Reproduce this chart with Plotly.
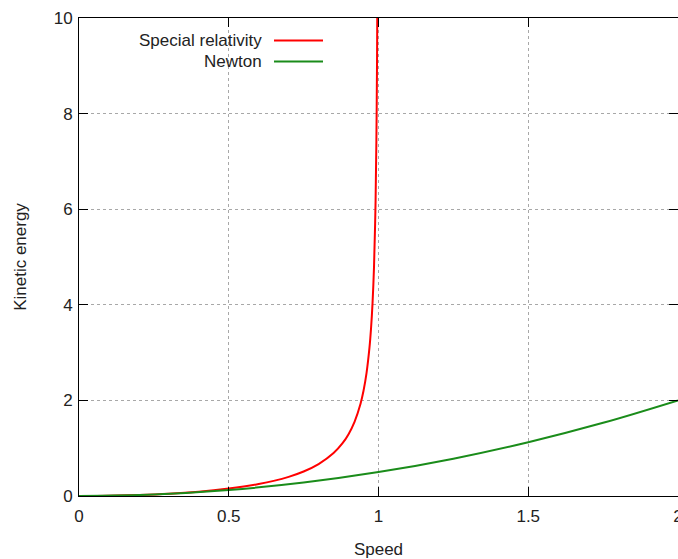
import plotly.graph_objects as go

# Values
sr_speed = [0.0, 0.1, 0.2, 0.3, 0.4, 0.5, 0.55, 0.6, 0.65, 0.7, 0.75, 0.8, 0.85, 0.88,
            0.9, 0.92, 0.94, 0.95, 0.96, 0.97, 0.975, 0.98, 0.985, 0.99, 0.993, 0.995, 0.996, 0.997]
sr_energy = [0.0, 0.005, 0.021, 0.048, 0.091, 0.155, 0.197, 0.25, 0.316, 0.40, 0.512, 0.667, 0.898, 1.105,
             1.294, 1.552, 1.931, 2.203, 2.571, 3.113, 3.50, 4.025, 4.79, 6.089, 7.46, 9.01, 10.19, 11.9]
nw_speed = [0.0, 0.25, 0.5, 0.75, 1.0, 1.25, 1.5, 1.75, 2.0]
nw_energy = [0.0, 0.031, 0.125, 0.281, 0.5, 0.781, 1.125, 1.531, 2.0]
x_ticks = [0, 0.5, 1, 1.5, 2]
y_ticks = [0, 2, 4, 6, 8, 10]
series_names = ["Special relativity", "Newton"]
series_colors = ["#ff0000", "#1a8c1a"]

fig = go.Figure()
fig.add_trace(go.Scatter(x=sr_speed, y=sr_energy, mode="lines", name=series_names[0],
                         line=dict(color=series_colors[0], width=2, shape="spline"),
                         showlegend=False))
fig.add_trace(go.Scatter(x=nw_speed, y=nw_energy, mode="lines", name=series_names[1],
                         line=dict(color=series_colors[1], width=2, shape="spline"),
                         showlegend=False))

font = dict(family="Liberation Sans, Arial, sans-serif", size=17, color="#222222")

axis_common = dict(showline=True, linecolor="#000000", linewidth=1, mirror="ticks",
                   ticks="inside", ticklen=9, tickwidth=1, tickcolor="#000000",
                   showgrid=True, gridcolor="#a8a8a8", griddash="dot", gridwidth=1,
                   zeroline=False, tickfont=font, automargin=False, ticklabeloverflow="allow")

fig.update_xaxes(range=[0, 2], tickvals=x_ticks, ticktext=[f"{t:g}" for t in x_ticks],
                 title=dict(text="Speed", font=font, standoff=17), ticklabelstandoff=5,
                 **axis_common)
fig.update_yaxes(range=[0, 10], tickvals=y_ticks, ticktext=[str(t) for t in y_ticks],
                 title=dict(text="Kinetic energy", font=font, standoff=22), ticklabelstandoff=2,
                 **axis_common)

L, R, T, B = 79, 0, 18, 63
W, H = 678, 559
pw, ph = W - L - R, H - T - B

# gnuplot-style legend: text right-aligned, sample line to the right
legend_rows = [40.5, 61.5]
for name, color, yp in zip(series_names, series_colors, legend_rows):
    yy = 1 - (yp - T) / ph
    fig.add_annotation(xref="paper", yref="paper", x=(264 - L) / pw, y=yy, text=name,
                       showarrow=False, xanchor="right", yanchor="middle", font=font)
    fig.add_shape(type="line", xref="paper", yref="paper", x0=(274 - L) / pw, x1=(323 - L) / pw,
                  y0=yy, y1=yy, line=dict(color=color, width=2))

fig.update_layout(width=W, height=H, margin=dict(l=L, r=R, t=T, b=B, autoexpand=False),
                  paper_bgcolor="white", plot_bgcolor="white", font=font)

fig.write_html("out.html", config={"displayModeBar": False},
               post_script="document.body.style.margin='0';document.body.style.overflow='hidden';")
